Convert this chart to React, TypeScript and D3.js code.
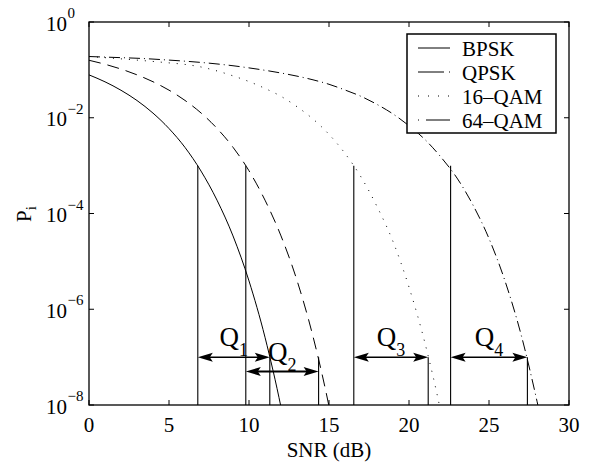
import React from "react";
import * as d3 from "d3";

// SNR grid (dB), one value per point of each curve
const snrDb = [
  0, 1, 2, 3, 4, 5, 6, 7, 8, 9, 10, 11, 12, 13, 14, 15, 16, 17, 18, 19, 20,
  21, 22, 23, 24, 25, 26, 27, 28, 29,
];

const bpsk = [
  0.0786, 0.0563, 0.0375, 0.0229, 0.0125, 0.00595, 0.0024, 7.7e-4, 1.9e-4,
  3.4e-5, 3.9e-6, 2.6e-7, 9e-9, 1.5e-10,
];
const qpsk = [
  0.1587, 0.131, 0.104, 0.0788, 0.0565, 0.0377, 0.023, 0.0126, 0.006, 0.00242,
  7.8e-4, 1.9e-4, 3.4e-5, 4.0e-6, 2.7e-7, 9.4e-9, 1.5e-10,
];
const qam16 = [
  0.19, 0.18, 0.17, 0.16, 0.15, 0.14, 0.13, 0.115, 0.095, 0.075, 0.057, 0.041,
  0.028, 0.017, 0.0094, 0.0045, 0.0018, 5.8e-4, 1.4e-4, 2.6e-5, 2.9e-6,
  1.95e-7, 6.8e-9, 1e-10,
];
const qam64 = [
  0.19, 0.185, 0.18, 0.175, 0.168, 0.16, 0.152, 0.143, 0.133, 0.122, 0.11,
  0.098, 0.086, 0.074, 0.062, 0.05, 0.038, 0.028, 0.019, 0.012, 0.0068,
  0.0035, 0.0015, 5.5e-4, 1.5e-4, 3.0e-5, 3.9e-6, 3.0e-7, 1.2e-8, 3e-10,
];

const seriesNames = ["BPSK", "QPSK", "16–QAM", "64–QAM"];
const seriesDash = ["none", "12,7", "1,7", "11,4,1,4"];
const legendDash = ["none", "26,5", "1,9", "1,7,24"];

// switching thresholds (dB)
const upperSnr = [6.8, 9.8, 16.55, 22.6]; // where each curve hits 1e-3
const lowerSnr = [11.3, 14.35, 21.2, 27.4]; // where each curve hits 1e-7
const arrowLevel = [1e-7, 5e-8, 1e-7, 1e-7];
const regionLabels = ["1", "2", "3", "4"];

const xTicks = [0, 5, 10, 15, 20, 25, 30];
const yTicks = [1, 1e-2, 1e-4, 1e-6, 1e-8];
const yTickExp = ["0", "−2", "−4", "−6", "−8"];

const W = 590;
const H = 465;
const left = 89;
const right = 569;
const top = 22;
const bottom = 405;
const font = "Liberation Serif, Times New Roman, Times, DejaVu Serif, serif";

export default function App() {
  const x = d3.scaleLinear().domain([0, 30]).range([left, right]);
  const y = d3.scaleLog().domain([1e-8, 1]).range([bottom, top]);

  const line = d3
    .line<number>()
    .x((d, i) => x(snrDb[i]))
    .y(d => y(d))
    .curve(d3.curveMonotoneX);

  const curves = [bpsk, qpsk, qam16, qam64];

  const arrowHead = (tipX: number, yy: number, dir: number) => {
    const len = 15;
    const half = 4.5;
    return `M${tipX},${yy} L${tipX + dir * len},${yy - half} L${
      tipX + dir * (len - 3)
    },${yy} L${tipX + dir * len},${yy + half} Z`;
  };

  return (
    <svg
      width={W}
      height={H}
      style={{
        position: "absolute",
        left: 0,
        top: 0,
        background: "#fff",
        fontFamily: font,
      }}
    >
      <defs>
        <clipPath id="plotClip">
          <rect x={left} y={top} width={right - left} height={bottom - top} />
        </clipPath>
      </defs>

      {/* curves */}
      <g clipPath="url(#plotClip)">
        {curves.map((c, i) => (
          <path
            key={i}
            d={line(c) || ""}
            fill="none"
            stroke="#000"
            strokeWidth={1}
            strokeDasharray={seriesDash[i]}
          />
        ))}
      </g>

      {/* region markers */}
      {upperSnr.map((s, i) => {
        const xa = x(s);
        const xb = x(lowerSnr[i]);
        const ya = y(arrowLevel[i]);
        return (
          <g key={i}>
            <line x1={xa} x2={xa} y1={y(1e-8)} y2={y(1e-3)} stroke="#000" strokeWidth={1.1} />
            <line x1={xb} x2={xb} y1={y(1e-8)} y2={y(1e-7)} stroke="#000" strokeWidth={1.1} />
            <line
              x1={xa + 8}
              x2={xb - 8}
              y1={ya}
              y2={ya}
              stroke="#000"
              strokeWidth={i === 1 ? 2 : 1.5}
            />
            <path d={arrowHead(xa, ya, 1)} fill="#000" />
            <path d={arrowHead(xb, ya, -1)} fill="#000" />
            <text
              x={(xa + xb) / 2}
              y={ya - 11}
              fontSize={27}
              textAnchor="middle"
            >
              Q
              <tspan fontSize={18} dy={10}>
                {regionLabels[i]}
              </tspan>
            </text>
          </g>
        );
      })}

      {/* axes box */}
      <rect
        x={left}
        y={top}
        width={right - left}
        height={bottom - top}
        fill="none"
        stroke="#000"
        strokeWidth={1.3}
      />
      {xTicks.map(t => (
        <g key={t}>
          <line x1={x(t)} x2={x(t)} y1={bottom} y2={bottom - 5} stroke="#000" />
          <line x1={x(t)} x2={x(t)} y1={top} y2={top + 5} stroke="#000" />
          <text x={x(t)} y={432} fontSize={21} textAnchor="middle">
            {t}
          </text>
        </g>
      ))}
      {yTicks.map((t, i) => (
        <g key={t}>
          <line x1={left} x2={left + 5} y1={y(t)} y2={y(t)} stroke="#000" />
          <line x1={right} x2={right - 5} y1={y(t)} y2={y(t)} stroke="#000" />
          <text x={67} y={y(t) + 8.5} fontSize={21} textAnchor="end">
            10
          </text>
          <text x={67.5} y={y(t) - 4} fontSize={15}>
            {yTickExp[i]}
          </text>
        </g>
      ))}

      <text x={329} y={457} fontSize={21} textAnchor="middle">
        SNR (dB)
      </text>
      <text transform="translate(31,214) rotate(-90)" fontSize={21} textAnchor="middle">
        P
        <tspan fontSize={15} dy={5}>
          i
        </tspan>
      </text>

      {/* legend */}
      <rect x={407} y={34} width={149} height={99} fill="#fff" stroke="#000" strokeWidth={1.5} />
      {seriesNames.map((n, i) => {
        const ly = 48 + i * 24;
        return (
          <g key={n}>
            <line
              x1={418}
              x2={450}
              y1={ly}
              y2={ly}
              stroke="#000"
              strokeWidth={1}
              strokeDasharray={legendDash[i]}
            />
            <text x={462} y={ly + 7.5} fontSize={21}>
              {n}
            </text>
          </g>
        );
      })}
    </svg>
  );
}
